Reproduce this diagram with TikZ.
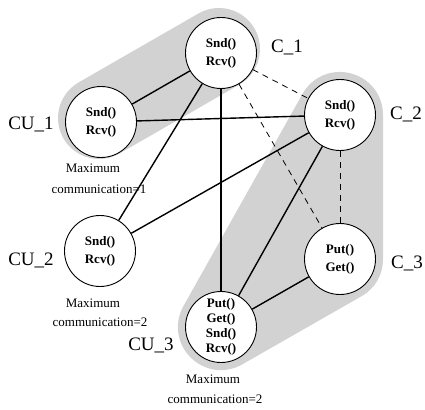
\documentclass[tikz,border=0pt]{standalone}
\usepackage{fontspec}
\setmainfont{Liberation Serif}
\usetikzlibrary{backgrounds}
\begin{document}
\begin{tikzpicture}[x=1pt,y=-1pt,
 unit/.style={circle, draw, line width=0.9pt, fill=white, minimum size=71pt, inner sep=0pt, font=\fontsize{13}{18}\selectfont\bfseries, align=center},
 lbl/.style={font=\fontsize{19}{22}\selectfont, anchor=base, inner sep=0pt},
 note/.style={font=\fontsize{13}{16}\selectfont, anchor=base, inner sep=0pt},
 link/.style={line width=1.4pt},
 dlink/.style={line width=0.8pt, dash pattern=on 6pt off 5pt},
 hull/.style={draw=gray!35, fill=gray!35, line join=round, line cap=round}
]
\useasboundingbox (0,0) rectangle (425,409);
\node[unit] (C1) at (221,53) {Snd()\\Rcv()};
\node[unit] (CU1) at (101,122) {Snd()\\Rcv()};
\node[unit] (C2) at (340,115) {Snd()\\Rcv()};
\node[unit] (CU2) at (100,251) {Snd()\\Rcv()};
\node[unit] (C3) at (340,259) {Put()\\Get()};
\node[unit, font=\fontsize{13}{15}\selectfont\bfseries] (CU3) at (221,327) {Put()\\Get()\\Snd()\\Rcv()};
\begin{scope}[on background layer]
\draw[hull, line width=82pt] ([shift={(-2,-4)}]CU1.center) -- ([shift={(-2,-4)}]C1.center);
\filldraw[hull, line width=86pt] (CU3.center) -- (C2.center) -- (C3.center) -- cycle;
\end{scope}
\draw[link] (CU1) -- (C1);
\draw[link] (CU1) -- (C2);
\draw[link] (C1) -- (CU2);
\draw[link] (C1) -- (CU3);
\draw[link] (C2) -- (CU2);
\draw[link] (C2) -- (CU3);
\draw[link] (C3) -- (CU3);
\draw[dlink] (C1) -- (C2);
\draw[dlink] (C1) -- (C3);
\draw[dlink] (C2) -- (C3);
\node[lbl] (lC1) at (287,53) {C\_1};
\node[lbl] (lCU1) at (31,129) {CU\_1};
\node[lbl] (lC2) at (406,120) {C\_2};
\node[lbl] (lCU2) at (31,265) {CU\_2};
\node[lbl] (lC3) at (407,268) {C\_3};
\node[lbl] (lCU3) at (151,350) {CU\_3};
\node[note] (m1a) at (93,172) {Maximum};
\node[note] (m1b) at (99,193) {communication=1};
\node[note] (m2a) at (93,307) {Maximum};
\node[note] (m2b) at (100,326) {communication=2};
\node[note] (m3a) at (213,383) {Maximum};
\node[note] (m3b) at (215,403) {communication=2};
\end{tikzpicture}
\end{document}
